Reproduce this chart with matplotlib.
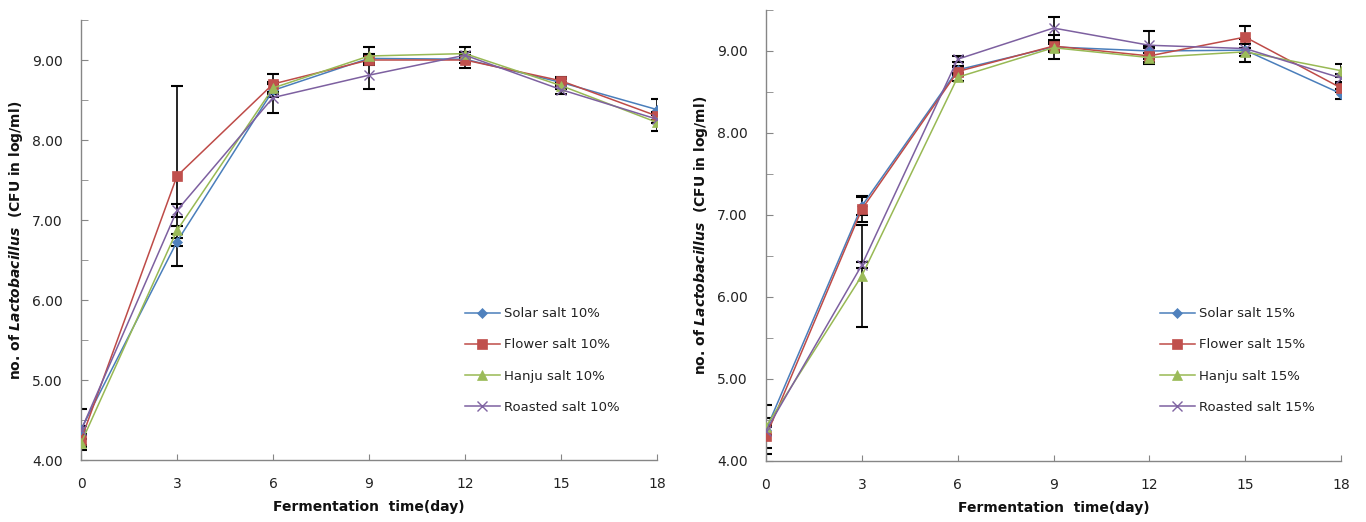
import matplotlib
matplotlib.use("Agg")
import matplotlib.pyplot as plt
from matplotlib.ticker import MultipleLocator, FormatStrFormatter

plt.rcParams['font.family'] = ['DejaVu Sans']
plt.rcParams['mathtext.fontset'] = 'custom'
plt.rcParams['mathtext.it'] = 'DejaVu Sans:italic:bold'
plt.rcParams['mathtext.rm'] = 'DejaVu Sans:bold'

days = [0, 3, 6, 9, 12, 15, 18]
series_names = ["Solar salt", "Flower salt", "Hanju salt", "Roasted salt"]

# 10% salt
solar10 = [4.38, 6.73, 8.62, 9.02, 9.01, 8.72, 8.38]
flower10 = [4.25, 7.55, 8.70, 9.00, 9.00, 8.74, 8.30]
hanju10 = [4.21, 6.87, 8.65, 9.05, 9.08, 8.68, 8.22]
roasted10 = [4.37, 7.12, 8.53, 8.81, 9.06, 8.63, 8.26]
solar10_err = [0.26, 0.05, 0.08, 0.06, 0.05, 0.04, 0.13]
flower10_err = [0.06, 1.12, 0.12, 0.05, 0.10, 0.05, 0.05]
hanju10_err = [0.05, 0.05, 0.05, 0.11, 0.08, 0.04, 0.11]
roasted10_err = [0.05, 0.08, 0.19, 0.17, 0.04, 0.05, 0.05]

# 15% salt
solar15 = [4.38, 7.11, 8.77, 9.05, 9.00, 9.01, 8.48]
flower15 = [4.30, 7.07, 8.75, 9.06, 8.94, 9.17, 8.55]
hanju15 = [4.42, 6.26, 8.68, 9.04, 8.92, 8.99, 8.76]
roasted15 = [4.37, 6.39, 8.90, 9.28, 9.07, 9.03, 8.67]
solar15_err = [0.30, 0.11, 0.05, 0.15, 0.06, 0.14, 0.06]
flower15_err = [0.14, 0.16, 0.05, 0.05, 0.10, 0.13, 0.05]
hanju15_err = [0.10, 0.62, 0.05, 0.05, 0.05, 0.05, 0.08]
roasted15_err = [0.05, 0.04, 0.04, 0.14, 0.17, 0.05, 0.05]

line_colors = ['#4A7EBB', '#BE4B48', '#98B954', '#7D60A0']
marker_colors = ['#4F81BD', '#C0504D', '#9BBB59', '#8064A2']
markers = ['D', 's', '^', 'x']
msizes = [5, 7, 7, 7]

fig = plt.figure(figsize=(13.66, 5.22), dpi=100)
ax1 = fig.add_axes([81/1366, 1-460/522, (657-81)/1366, (460-20)/522])
ax2 = fig.add_axes([766/1366, 1-461/522, (1341-766)/1366, (461-10)/522])

def draw(ax, vals, errs, pct, legend_anchor):
    for i, (v, e) in enumerate(zip(vals, errs)):
        ax.errorbar(days, v, yerr=e, fmt='none', ecolor='black',
                    elinewidth=1.2, capsize=4, capthick=1.5, zorder=2)
    for i, v in enumerate(vals):
        ax.plot(days, v, color=line_colors[i], lw=1.1, marker=markers[i],
                ms=msizes[i], mfc=marker_colors[i], mec=marker_colors[i],
                mew=1.0 if markers[i] == 'x' else 0.5,
                label=f"{series_names[i]} {pct}%", zorder=3)
    ax.set_xlim(0, 18)
    ax.set_ylim(4, 9.5)
    ax.set_xticks(days)
    ax.yaxis.set_major_locator(MultipleLocator(1))
    ax.yaxis.set_minor_locator(MultipleLocator(0.5))
    ax.yaxis.set_major_formatter(FormatStrFormatter('%.2f'))
    for s in ['top', 'right']:
        ax.spines[s].set_visible(False)
    for s in ['left', 'bottom']:
        ax.spines[s].set_color('#868686')
        ax.spines[s].set_linewidth(1.0)
    ax.tick_params(axis='both', which='both', direction='in', color='#868686',
                   labelsize=10, labelcolor='#222222')
    ax.tick_params(axis='y', which='both', length=5, pad=13)
    ax.tick_params(axis='x', which='major', length=4, pad=12)
    ax.set_xlabel('Fermentation  time(day)', fontsize=10, fontweight='bold',
                  labelpad=7, color='#111111')
    ax.set_ylabel(r'no. of $\mathit{Lactobacillus}$  (CFU in log/ml)',
                  fontsize=10, fontweight='bold', labelpad=5, color='#111111')
    leg = ax.legend(loc='upper left', bbox_to_anchor=legend_anchor,
                    frameon=False, fontsize=9.5, labelspacing=1.38,
                    handlelength=2.6, handletextpad=0.3, borderaxespad=0)
    for t in leg.get_texts():
        t.set_color('#222222')

draw(ax1, [solar10, flower10, hanju10, roasted10],
     [solar10_err, flower10_err, hanju10_err, roasted10_err], 10,
     ((460-81)/(657-81), (460-302)/(460-20)))
draw(ax2, [solar15, flower15, hanju15, roasted15],
     [solar15_err, flower15_err, hanju15_err, roasted15_err], 15,
     ((1155-766)/(1341-766), (461-302)/(461-10)))

fig.savefig('out.png', dpi=100)
